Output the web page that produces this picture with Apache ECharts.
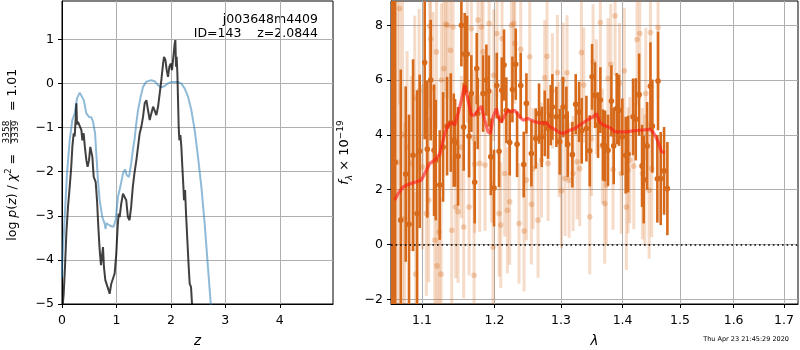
<!DOCTYPE html>
<html><head><meta charset="utf-8">
<script src="https://cdn.jsdelivr.net/npm/echarts@6/dist/echarts.min.js"></script>
<style>html,body{margin:0;padding:0;background:#fff}#c{width:800px;height:350px}</style>
</head><body><div id="c"></div>
<script>
// ---------- Left panel: log p(z) ----------
const pzTicksX = [0, 1, 2, 3, 4];
const pzTicksY = [-5, -4, -3, -2, -1, 0, 1];
const blueZ = [0.0,0.007,0.05,0.092,0.141,0.19,0.233,0.276,0.325,0.356,0.40,0.447,0.496,0.539,0.57,0.607,0.63,0.66,0.692,0.74,0.783,0.80,0.814,0.844,0.905,0.948,0.985,1.028,1.07,1.12,1.157,1.19,1.23,1.27,1.31,1.335,1.36,1.396,1.445,1.488,1.55,1.641,1.70,1.764,1.825,1.886,1.947,2.009,2.13,2.19,2.25,2.315,2.376,2.437,2.498,2.56,2.62,2.68,2.73,2.76];
const blueLogP = [-4.4,-4.01,-3.03,-2.04,-1.29,-0.83,-0.68,-0.34,-0.21,-0.19,-0.38,-0.68,-0.76,-0.77,-0.87,-1.13,-1.59,-2.19,-2.65,-3.03,-3.18,-3.30,-3.17,-3.2,-3.24,-3.25,-3.10,-2.57,-2.35,-2.04,-1.95,-2.08,-2.12,-1.82,-1.44,-1.25,-0.95,-0.61,-0.30,-0.08,0.04,0.07,0.05,-0.04,-0.09,-0.06,0.0,0.03,0.03,0.0,-0.11,-0.30,-0.61,-1.06,-1.67,-2.35,-3.18,-4.16,-4.96,-5.5];
const blackZ = [0.0,0.031,0.055,0.08,0.11,0.141,0.17,0.19,0.215,0.233,0.25,0.264,0.276,0.294,0.325,0.356,0.374,0.398,0.42,0.447,0.47,0.496,0.52,0.539,0.557,0.582,0.618,0.643,0.667,0.692,0.716,0.74,0.753,0.77,0.796,0.826,0.857,0.875,0.905,0.936,0.967,0.997,1.022,1.04,1.058,1.089,1.12,1.15,1.18,1.21,1.24,1.27,1.30,1.33,1.366,1.396,1.427,1.458,1.488,1.519,1.55,1.58,1.611,1.641,1.672,1.70,1.733,1.764,1.794,1.825,1.856,1.874,1.899,1.923,1.947,1.972,1.996,2.02,2.045,2.07,2.082,2.094,2.106,2.119,2.131,2.143,2.155,2.174,2.192,2.21,2.23,2.24,2.26,2.278,2.302,2.327,2.345,2.37,2.388,2.40];
const blackLogP = [-5.2,-4.77,-4.16,-3.40,-2.80,-2.35,-1.89,-1.44,-1.13,-1.2,-0.83,-0.45,-0.93,-0.87,-0.91,-1.06,-1.29,-1.13,-1.44,-1.74,-1.89,-1.74,-1.44,-1.40,-1.66,-2.12,-2.23,-2.65,-3.25,-3.78,-4.12,-4.09,-3.71,-4.16,-4.46,-4.43,-4.69,-4.77,-4.54,-4.58,-4.31,-3.86,-3.25,-2.95,-3.03,-2.72,-2.50,-2.52,-2.65,-3.03,-3.10,-2.80,-2.35,-2.04,-1.74,-1.44,-1.13,-0.98,-0.76,-0.45,-0.38,-0.61,-0.83,-0.68,-0.53,-0.61,-0.72,-0.53,-0.23,0.08,0.45,0.60,0.53,0.30,0.15,0.38,0.45,0.30,0.60,0.91,0.98,0.38,0.60,0.23,-0.38,-0.98,-1.29,-1.17,-1.44,-1.89,-2.35,-2.65,-2.42,-2.95,-3.55,-4.16,-4.54,-4.62,-5.0,-5.6];

// ---------- Right panel: spectrum ----------
const specTicksX = [1.1, 1.2, 1.3, 1.4, 1.5, 1.6, 1.7];
const specTicksY = [-2, 0, 2, 4, 6, 8];
const darkWave = [1.0603,1.0612,1.0630,1.0650,1.0722,1.0786,1.0829,1.0882,1.0935,1.0969,1.1035,1.1070,1.1115,1.1160,1.1183,1.1237,1.1282,1.1336,1.1387,1.1428,1.1446,1.1487,1.1533,1.1565,1.1579,1.1612,1.1640,1.1672,1.1719,1.1748,1.1762,1.1838,1.1885,1.1919,1.1948,1.1995,1.2034,1.2068,1.2107,1.2140,1.2174,1.2223,1.2263,1.2312,1.2332,1.2386,1.2431,1.2471,1.2546,1.2612,1.2662,1.2703,1.2749,1.2800,1.2841,1.2867,1.2929,1.2981,1.3033,1.3085,1.3106,1.3180,1.3233,1.3286,1.3329,1.3404,1.3458,1.3496,1.3544,1.3593,1.3631,1.3675,1.3708,1.3757,1.3813,1.3851,1.3901,1.3940,1.3996,1.4053,1.4093,1.4178,1.4224,1.4281,1.4332,1.4360,1.4419,1.4477,1.4511,1.4598,1.4610,1.4657,1.4716,1.4775];
const darkFlux = [3.5,4.5,2.0,3.0,0.89,2.57,0.74,3.26,1.13,3.40,6.64,3.48,6.0,3.44,3.08,2.17,3.56,4.32,4.45,3.81,3.71,3.22,8.0,4.29,6.95,6.95,3.95,5.51,2.27,6.42,4.78,5.51,6.0,5.6,3.2,2.06,5.8,3.4,5.63,6.55,4.9,3.72,5.66,6.58,3.66,5.8,2.92,5.15,3.32,3.87,4.78,3.93,4.42,4.23,4.72,5.02,4.66,3.75,5.02,4.66,3.66,3.28,5.12,4.84,4.15,4.23,3.42,6.12,5.45,4.36,5.27,3.63,3.59,3.44,5.24,3.6,4.96,4.9,3.93,3.26,3.3,4.66,4.57,5.47,2.87,2.37,3.6,5.78,4.32,2.4,5.97,2.41,2.69,2.04];
const darkErr = [12,12,11,9,5.5,3.2,4.0,3.5,4.5,2.8,2.8,2.5,2.2,2.4,2.2,2.0,2.0,1.8,1.8,1.7,1.6,1.8,1.5,1.6,1.5,1.4,1.5,1.4,1.5,1.3,1.3,1.4,1.3,1.3,1.4,1.4,1.2,1.3,1.2,1.3,1.2,1.2,1.2,1.3,1.2,1.2,1.2,1.1,1.2,1.1,1.1,1.1,1.2,1.1,1.1,1.2,1.1,1.2,1.1,1.1,1.2,1.2,1.1,1.1,1.2,1.2,1.3,1.2,1.2,1.2,1.2,1.3,1.3,1.3,1.3,1.4,1.3,1.3,1.4,1.4,1.4,1.4,1.5,1.5,1.5,1.6,1.6,1.6,1.7,1.6,1.8,1.7,1.6,1.7];
const lightWave = [1.0680,1.0709,1.0745,1.0774,1.0804,1.0860,1.0904,1.0917,1.0961,1.1005,1.1057,1.1088,1.1102,1.1115,1.1147,1.1170,1.1192,1.1200,1.1228,1.1255,1.1260,1.1291,1.1318,1.1341,1.1382,1.1400,1.1418,1.1455,1.1487,1.1533,1.1565,1.1616,1.1640,1.1672,1.1705,1.1710,1.1719,1.1767,1.1790,1.1814,1.1838,1.1866,1.1924,1.1957,1.1981,1.1990,1.2039,1.2068,1.2092,1.2111,1.2150,1.2189,1.2223,1.2248,1.2282,1.2297,1.2361,1.2386,1.2436,1.2471,1.2521,1.2546,1.2571,1.2647,1.2698,1.2749,1.2785,1.2800,1.2867,1.2945,1.2971,1.3007,1.3033,1.3064,1.3096,1.3127,1.3191,1.3255,1.3297,1.3324,1.3361,1.3458,1.3485,1.3512,1.3566,1.3631,1.3664,1.3702,1.3730,1.3757,1.3802,1.3840,1.3874,1.3948,1.3977,1.4030,1.4064,1.4093,1.4121,1.4190,1.4246,1.4292,1.4338,1.4378,1.4396,1.4454,1.4477,1.4500,1.4610];
const lightFlux = [3.0,8.61,4.0,0.95,3.56,2.96,5.35,-1.08,5.6,2.83,1.13,1.62,7.97,7.5,5.69,0.16,7.03,-0.78,0.46,-1.08,6.0,6.42,8.04,8.0,7.09,0.52,7.94,1.37,1.2,3.56,0.64,6.95,1.37,7.88,3.87,-1.12,2.93,8.19,2.96,7.94,7.03,2.9,8.07,3.2,-0.09,6.18,7.7,1.13,0.71,7.52,2.59,1.25,1.56,8.0,8.07,7.34,0.77,7.12,0.49,2.35,6.85,1.47,2.77,0.89,3.08,6.09,6.87,2.96,5.61,6.28,3.83,1.96,6.0,2.41,6.27,2.35,2.59,3.02,2.77,7.01,5.82,1.01,3.87,6.67,5.39,8.1,3.59,1.5,2.17,6.06,6.58,2.74,8.35,5.88,2.59,6.34,1.37,2.71,3.08,2.86,7.48,7.7,2.59,2.35,5.51,1.98,7.74,2.77,7.92];
const lightErr = [8,3.5,7,3.5,3.5,3.2,3.0,3.0,3.0,3.0,3.0,3.0,3.0,3.0,2.8,2.8,2.8,2.8,2.8,2.8,2.8,2.7,2.7,2.7,2.7,2.7,2.7,2.6,2.6,2.6,2.6,2.5,2.5,2.5,2.5,2.5,2.5,2.5,2.5,2.5,2.4,2.4,2.4,2.4,2.4,2.4,2.3,2.3,2.3,2.3,2.3,2.3,2.3,2.3,2.2,2.2,2.2,2.2,2.2,2.2,2.2,2.2,2.2,2.1,2.1,2.1,2.1,2.1,2.1,2.1,2.1,2.1,2.1,2.1,2.1,2.1,2.1,2.1,2.1,2.1,2.1,2.1,2.1,2.1,2.1,2.1,2.1,2.2,2.2,2.2,2.2,2.2,2.2,2.2,2.2,2.3,2.3,2.3,2.3,2.3,2.4,2.4,2.4,2.4,2.4,2.5,2.5,2.5,2.6];
const modelWave = [1.0645,1.0688,1.0752,1.0817,1.0882,1.0948,1.0991,1.1035,1.1102,1.1170,1.1237,1.1305,1.1350,1.1396,1.1441,1.1487,1.1533,1.1579,1.1626,1.1672,1.1719,1.1767,1.1814,1.1862,1.1909,1.1943,1.1981,1.2029,1.2068,1.2102,1.2150,1.2199,1.2248,1.2297,1.2371,1.2421,1.2496,1.2546,1.2597,1.2672,1.2775,1.2826,1.2903,1.2981,1.3033,1.3085,1.3138,1.3217,1.3297,1.3377,1.3458,1.3512,1.3566,1.3620,1.3675,1.3757,1.3813,1.3868,1.3948,1.4064,1.4178,1.4292,1.4465,1.4523,1.4569,1.4610,1.4669,1.4728];
const modelFlux = [1.62,1.86,2.10,2.19,2.25,2.31,2.35,2.59,2.96,3.08,3.30,4.05,4.36,4.45,4.36,4.78,5.27,5.82,5.27,4.72,4.72,4.90,5.05,4.54,4.11,4.05,4.66,4.96,4.60,4.48,4.72,4.90,4.84,4.90,4.66,4.54,4.60,4.54,4.48,4.44,4.44,4.30,4.20,4.08,4.05,4.11,4.17,4.23,4.36,4.48,4.60,4.66,4.78,4.48,4.36,4.30,4.23,4.11,4.11,4.11,4.15,4.17,4.20,4.11,3.93,3.75,3.40,3.35];

const objName = 'j003648m4409';
const objInfo = 'ID=143    z=2.0844';
const stamp = 'Thu Apr 23 21:45:29 2020';

const FONT = 'DejaVu Sans';
const minus = v => (v < 0 ? '\u2212' + Math.abs(v) : String(v));
const DARK = '#d6691a';
const LIGHT_BAR = 'rgba(214,105,26,0.24)';
const LIGHT_DOT = 'rgba(214,105,26,0.30)';

function errSeries(name, waves, flux, err, barColor, dotColor, barW, r, z) {
  return {
    name, type: 'custom', xAxisIndex: 1, yAxisIndex: 1, z, clip: true,
    data: waves.map((w, i) => [Math.log(w), flux[i], err[i]]),
    renderItem: function (params, api) {
      const x = api.value(0), y = api.value(1), e = api.value(2);
      const lo = api.coord([x, y - e]), hi = api.coord([x, y + e]), c = api.coord([x, y]);
      const cs = params.coordSys;
      return {
        type: 'group',
        clipPath: { type: 'rect', shape: { x: cs.x, y: cs.y, width: cs.width, height: cs.height } },
        children: [
          { type: 'line', shape: { x1: lo[0], y1: lo[1], x2: hi[0], y2: hi[1] }, style: { stroke: barColor, lineWidth: barW } },
          { type: 'circle', shape: { cx: c[0], cy: c[1], r: r }, style: { fill: dotColor } }
        ]
      };
    }
  };
}

const axisCommon = {
  axisLine: { show: true, onZero: false, lineStyle: { color: '#000', width: 1 } },
  axisTick: { show: true, length: 4, lineStyle: { color: '#000', width: 1 } },
  splitLine: { show: true, lineStyle: { color: '#b0b0b0', width: 1 } }
};
const labelStyle = { color: '#000', fontFamily: FONT, fontSize: 12.5 };

const chart = echarts.init(document.getElementById('c'), null, { renderer: 'canvas' });
chart.setOption({
  animation: false,
  backgroundColor: '#fff',
  grid: [
    { left: 62, top: 1, width: 271, height: 303, outerBoundsMode: 'none', containLabel: false, show: true, borderColor: '#000', borderWidth: 1, backgroundColor: 'transparent' },
    { left: 391, top: 1, width: 407, height: 303, outerBoundsMode: 'none', containLabel: false, show: true, borderColor: '#000', borderWidth: 1, backgroundColor: 'transparent' }
  ],
  xAxis: [
    Object.assign({}, axisCommon, {
      type: 'value', gridIndex: 0, min: 0, max: 4.977,
      axisTick: Object.assign({}, axisCommon.axisTick, { customValues: pzTicksX }),
      axisLabel: Object.assign({}, labelStyle, { customValues: pzTicksX, margin: 10, formatter: minus }),
      name: 'z', nameLocation: 'middle', nameGap: 30,
      nameTextStyle: { color: '#000', fontFamily: FONT, fontSize: 13.5, fontStyle: 'italic' }
    }),
    Object.assign({}, axisCommon, {
      type: 'value', gridIndex: 1, min: Math.log(1.0597), max: Math.log(1.7288),
      axisTick: Object.assign({}, axisCommon.axisTick, { customValues: specTicksX.map(Math.log) }),
      axisLabel: Object.assign({}, labelStyle, { customValues: specTicksX.map(Math.log), margin: 10, formatter: v => Math.exp(v).toFixed(1) }),
      name: 'λ', nameLocation: 'middle', nameGap: 30,
      nameTextStyle: { color: '#000', fontFamily: FONT, fontSize: 13.5, fontStyle: 'italic' }
    })
  ],
  yAxis: [
    Object.assign({}, axisCommon, {
      type: 'value', gridIndex: 0, min: -5, max: 1.867,
      axisTick: Object.assign({}, axisCommon.axisTick, { customValues: pzTicksY }),
      axisLabel: Object.assign({}, labelStyle, { customValues: pzTicksY, margin: 8, formatter: minus })
    }),
    Object.assign({}, axisCommon, {
      type: 'value', gridIndex: 1, min: -2.17, max: 8.887,
      axisTick: Object.assign({}, axisCommon.axisTick, { customValues: specTicksY }),
      axisLabel: Object.assign({}, labelStyle, { customValues: specTicksY, margin: 8, formatter: minus }),
      name: '{i|f}{sub|λ}{n| × 10}{sup|−19}', nameLocation: 'middle', nameRotate: 90, nameGap: 35,
      nameTextStyle: {
        color: '#000', fontFamily: FONT, fontSize: 13,
        rich: {
          i: { fontFamily: FONT, fontSize: 13, fontStyle: 'italic', lineHeight: 18, color: '#000' },
          n: { fontFamily: FONT, fontSize: 13, lineHeight: 18, color: '#000' },
          sub: { fontFamily: FONT, fontSize: 9, fontStyle: 'italic', lineHeight: 9, verticalAlign: 'bottom', color: '#000' },
          sup: { fontFamily: FONT, fontSize: 9, lineHeight: 9, verticalAlign: 'top', color: '#000' }
        }
      }
    })
  ],
  series: [
    { name: 'blue', type: 'line', xAxisIndex: 0, yAxisIndex: 0, showSymbol: false, clip: true, z: 3,
      lineStyle: { color: 'rgba(31,119,180,0.5)', width: 2 },
      data: blueZ.map((z, i) => [z, blueLogP[i]]) },
    { name: 'black', type: 'line', xAxisIndex: 0, yAxisIndex: 0, showSymbol: false, clip: true, z: 4,
      lineStyle: { color: 'rgba(0,0,0,0.75)', width: 2 },
      data: blackZ.map((z, i) => [z, blackLogP[i]]) },
    errSeries('light', lightWave, lightFlux, lightErr, LIGHT_BAR, LIGHT_DOT, 3, 2.8, 2),
    errSeries('dark', darkWave, darkFlux, darkErr, DARK, DARK, 2.6, 2.8, 3),
    { name: 'model', type: 'line', xAxisIndex: 1, yAxisIndex: 1, showSymbol: false, clip: true, z: 5,
      lineStyle: { color: 'rgba(255,20,20,0.6)', width: 3.2 },
      data: modelWave.map((w, i) => [Math.log(w), modelFlux[i]]),
      markLine: { silent: true, symbol: 'none', label: { show: false },
        lineStyle: { type: [1.6, 3], color: '#000', width: 1.5 },
        data: [{ yAxis: 0 }] } }
  ],
  graphic: [
    { type: 'text', x: 318, y: 20, style: { text: objName, font: '12.5px "DejaVu Sans"', fill: '#000', align: 'right', verticalAlign: 'middle', textAlign: 'right', textVerticalAlign: 'middle' } },
    { type: 'text', x: 318, y: 34, style: { text: objInfo, font: '12.5px "DejaVu Sans"', fill: '#000', align: 'right', verticalAlign: 'middle', textAlign: 'right', textVerticalAlign: 'middle' } },
    { type: 'text', x: 789, y: 339, style: { text: stamp, font: '6.5px "DejaVu Sans"', fill: '#000', align: 'right', verticalAlign: 'middle', textAlign: 'right', textVerticalAlign: 'middle' } },
    { type: 'group', x: 12.5, y: 155, rotation: Math.PI / 2, children: [
      { type: 'text', x: 5, y: 0, style: {
          text: '{n|log }{i|p}{n|(}{i|z}{n|) / }{i|χ}{sup|2}{n| = }',
          align: 'right', verticalAlign: 'middle', textAlign: 'right', textVerticalAlign: 'middle',
          rich: {
            n: { font: '12.5px "DejaVu Sans"', fill: '#000', lineHeight: 16 },
            i: { font: 'italic 12.5px "DejaVu Sans"', fill: '#000', lineHeight: 16 },
            sup: { font: '8.5px "DejaVu Sans"', fill: '#000', lineHeight: 8, verticalAlign: 'top' }
          } } },
      { type: 'text', x: 23, y: -6.2, style: { text: '3358', font: '9px "DejaVu Sans"', fill: '#000', align: 'center', verticalAlign: 'middle', textAlign: 'center', textVerticalAlign: 'middle' } },
      { type: 'line', shape: { x1: 11, y1: -1.8, x2: 35, y2: -1.8 }, style: { stroke: '#000', lineWidth: 0.8 } },
      { type: 'text', x: 23, y: 2.8, style: { text: '3339', font: '9px "DejaVu Sans"', fill: '#000', align: 'center', verticalAlign: 'middle', textAlign: 'center', textVerticalAlign: 'middle' } },
      { type: 'text', x: 44, y: 0, style: { text: '= 1.01', font: '12.5px "DejaVu Sans"', fill: '#000', align: 'left', verticalAlign: 'middle', textAlign: 'left', textVerticalAlign: 'middle' } }
    ] }
  ]
});
</script></body></html>
